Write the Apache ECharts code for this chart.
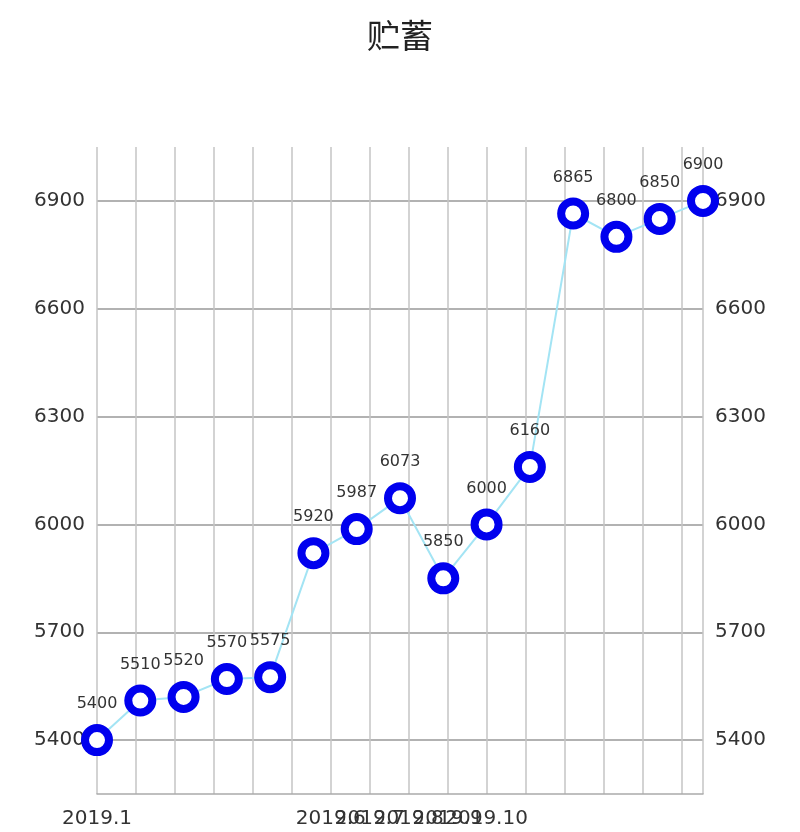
<!DOCTYPE html>
<html>
<head>
<meta charset="utf-8">
<title>贮蓄</title>
<script src="https://cdn.jsdelivr.net/npm/echarts@6/dist/echarts.min.js"></script>
<style>
  html, body { margin: 0; padding: 0; background: #fff; }
  #chart { width: 800px; height: 832px; }
</style>
</head>
<body>
<div id="chart"></div>
<script>
// 15 monthly points, x is just the point index
const savings = [5400, 5510, 5520, 5570, 5575, 5920, 5987, 6073, 5850, 6000, 6160, 6865, 6800, 6850, 6900];
// labels by x tick index (ticks every 0.9 from 0 to 14)
const tickLabels = ['2019.1', '', '', '', '', '', '2019.6', '2019.7', '2019.8', '2019.9', '2019.10', '', '', '', '', '', ''];
const yMarks = [5400, 5700, 6000, 6300, 6600, 6900];

const FONT = '"DejaVu Sans", sans-serif';

const yLabel = (value) => (yMarks.includes(Math.round(value)) ? String(Math.round(value)) : '');

const yAxisBase = {
  type: 'value',
  min: 5250,
  max: 7050,
  interval: 150,
  axisLine: { show: false },
  axisTick: { show: false },
  axisLabel: { formatter: yLabel, color: '#333', fontSize: 20, fontFamily: FONT, margin: 12 },
};

const chart = echarts.init(document.getElementById('chart'));
chart.setOption({
  backgroundColor: '#fff',
  animation: false,
  title: {
    text: '贮蓄',
    left: 'center',
    top: 14,
    textStyle: { fontSize: 33, fontWeight: 'normal', color: '#222', fontFamily: '"Noto Sans CJK SC", sans-serif' },
  },
  grid: { left: 97, right: 97, top: 147, bottom: 38 },
  xAxis: {
    type: 'value',
    min: 0,
    max: savings.length - 1,
    interval: 0.9,
    axisLine: { show: true, lineStyle: { color: '#aaa', width: 1.5 } },
    axisTick: { show: false },
    axisLabel: {
      formatter: (value, index) => tickLabels[index] || '',
      color: '#333',
      fontSize: 20,
      fontFamily: FONT,
      margin: 15,
      showMinLabel: true,
      showMaxLabel: true,
    },
    splitLine: { show: true, lineStyle: { color: '#c4c4c4', width: 1.5 } },
  },
  yAxis: [
    { ...yAxisBase, position: 'left', splitLine: { show: true, lineStyle: { color: ['rgba(0,0,0,0)', '#999'], width: 1.5 } } },
    { ...yAxisBase, position: 'right', splitLine: { show: false } },
  ],
  series: [{
    name: '贮蓄',
    type: 'line',
    data: savings.map((value, i) => [i, value]),
    symbol: 'circle',
    symbolSize: 24,
    lineStyle: { color: '#a3e4f4', width: 2 },
    itemStyle: { color: '#fff', borderColor: '#0000ee', borderWidth: 8 },
    label: {
      show: true,
      position: 'top',
      distance: 12,
      color: '#333',
      fontSize: 16,
      fontFamily: FONT,
      formatter: (p) => p.value[1],
    },
  }],
});
window.addEventListener('resize', () => chart.resize());
</script>
</body>
</html>
